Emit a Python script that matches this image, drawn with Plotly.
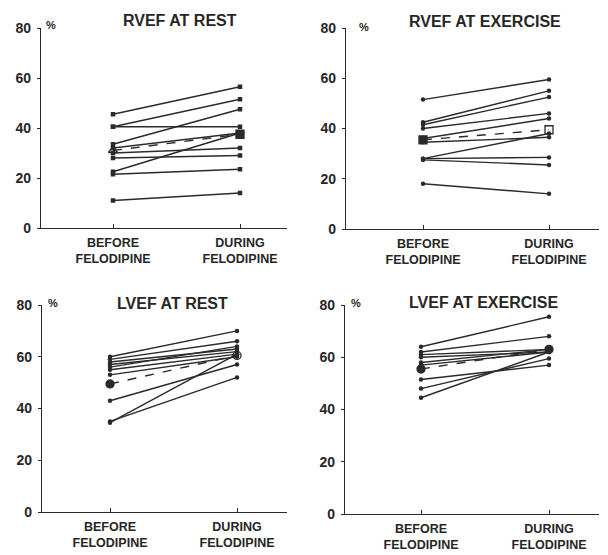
import plotly.graph_objects as go

W, H = 608, 555
OFF = 8  # page body margin of the browser, in px

categories = ["BEFORE<br>FELODIPINE", "DURING<br>FELODIPINE"]
y_ticks = [0, 20, 40, 60, 80]
titles = ["RVEF AT REST", "RVEF AT EXERCISE", "LVEF AT REST", "LVEF AT EXERCISE"]

# individual patients (before -> during)
rvef_rest_before = [45.5, 40.5, 40.5, 33.5, 32, 30, 28, 22.5, 21.5, 11]
rvef_rest_during = [56.5, 51.5, 40.5, 47.5, 38, 32, 29, 38, 23.5, 14]
rvef_rest_mean = [31, 37.5]

rvef_ex_before = [51.5, 42.5, 41.5, 40, 36, 34.5, 28, 28, 27.5, 18]
rvef_ex_during = [59.5, 55, 52.5, 46, 44, 36.5, 38, 28.5, 25.5, 14]
rvef_ex_mean = [35.5, 39.5]

lvef_rest_before = [60, 59, 58, 57, 56, 55, 53, 43, 35, 34.5]
lvef_rest_during = [70, 66, 63, 62, 64, 61, 60, 57, 52, 61]
lvef_rest_mean = [49.5, 60.5]

lvef_ex_before = [64, 62, 61, 60, 58, 57, 51.5, 48, 44.5]
lvef_ex_during = [75.5, 68, 63, 62, 63, 62, 57, 59.5, 62]
lvef_ex_mean = [55.5, 63]

panels = [
    (rvef_rest_before, rvef_rest_during, rvef_rest_mean, "square", ("triangle-up-open", "square"), (41, 287, 113, 240, 228, 28)),
    (rvef_ex_before, rvef_ex_during, rvef_ex_mean, "circle", ("square", "square-open"), (346, 599, 423, 549, 229, 28)),
    (lvef_rest_before, lvef_rest_during, lvef_rest_mean, "circle", ("circle", "circle-open"), (42, 287, 110, 237, 512, 305)),
    (lvef_ex_before, lvef_ex_during, lvef_ex_mean, "circle", ("circle", "circle"), (345, 599, 421, 549, 514, 305)),
]

title_pos = [(180, 20), (485, 22), (172, 303), (483, 302)]
pct_pos = [(51, 25), (364, 27), (53, 303), (356, 303)]

LINE = "#2a2a2a"
TXT = "#262626"
FONT = "Liberation Sans"


def fx(px):
    return (px - OFF) / W


def fy(py):
    return 1 - (py - OFF) / H


fig = go.Figure()
layout = dict(
    width=W, height=H, margin=dict(l=0, r=0, t=0, b=0),
    paper_bgcolor="white", plot_bgcolor="white", showlegend=False,
    font=dict(family=FONT, size=13, color=TXT),
    annotations=[],
)

for i, (before, during, mean, sym, msyms, geo) in enumerate(panels):
    k = "" if i == 0 else str(i + 1)
    xl, xr, xb, xd, y0, y80 = geo
    unit = (xd - xb)
    xrange = [(xl - xb) / unit, (xr - xb) / unit]
    for b, d in zip(before, during):
        fig.add_trace(go.Scatter(
            x=[0, 1], y=[b, d], mode="lines+markers",
            line=dict(color=LINE, width=1.4),
            marker=dict(symbol=sym, size=4.5, color=LINE),
            xaxis="x" + k, yaxis="y" + k, hoverinfo="skip", cliponaxis=False))
    fig.add_trace(go.Scatter(
        x=[0, 1], y=mean, mode="lines+markers",
        line=dict(color=LINE, width=1.4, dash="dash"),
        marker=dict(symbol=list(msyms), size=8, color=LINE, line=dict(color=LINE, width=1.3)),
        xaxis="x" + k, yaxis="y" + k, hoverinfo="skip", cliponaxis=False))

    layout["xaxis" + k] = dict(
        domain=[fx(xl), fx(xr)], range=xrange, anchor="y" + k,
        tickvals=[0, 1], ticktext=categories, ticks="inside", ticklen=4,
        tickcolor=LINE, showline=True, linecolor=LINE, linewidth=1.4,
        showgrid=False, zeroline=False, automargin=False,
        ticklabelstandoff=3,
        tickfont=dict(size=12.5, color=TXT, weight="bold"),
        fixedrange=True)
    layout["yaxis" + k] = dict(
        domain=[fy(y0), fy(y80)], range=[0, 80], anchor="x" + k,
        tickvals=y_ticks, ticks="outside", ticklen=3, tickcolor=LINE,
        showline=True, linecolor=LINE, linewidth=1.4, showgrid=False,
        zeroline=False, automargin=False, ticklabelstandoff=3,
        tickfont=dict(size=14, color=TXT, weight="bold"), fixedrange=True)
    tx, ty = title_pos[i]
    layout["annotations"].append(dict(
        text=titles[i], x=fx(tx), y=fy(ty), xref="paper", yref="paper",
        showarrow=False, font=dict(size=16, color=TXT, weight="bold"),
        xanchor="center", yanchor="middle"))
    px, py = pct_pos[i]
    layout["annotations"].append(dict(
        text="%", x=fx(px), y=fy(py), xref="paper", yref="paper",
        showarrow=False, font=dict(size=11, color=TXT, weight="bold"),
        xanchor="center", yanchor="middle"))

fig.update_layout(**layout)
fig.write_html("out.html")
